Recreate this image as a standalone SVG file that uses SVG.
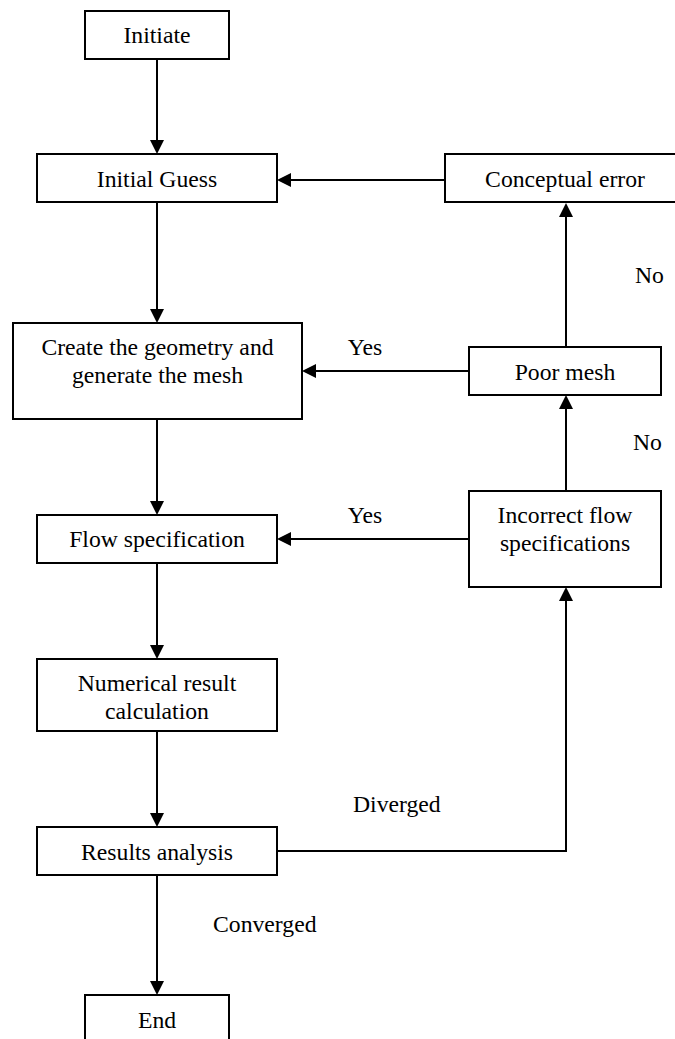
<svg xmlns="http://www.w3.org/2000/svg" width="675" height="1039" viewBox="0 0 675 1039">
<style>
.box{fill:#fff;stroke:#000;stroke-width:2}
.t{font-family:"Liberation Serif","Times New Roman",serif;font-size:23.7px;fill:#000}
.c{text-anchor:middle}
.ln{fill:none;stroke:#000;stroke-width:2}
</style>
<defs>
<marker id="ah" markerUnits="userSpaceOnUse" markerWidth="14" markerHeight="14" refX="11" refY="7" orient="auto">
<path d="M0,0 L14,7 L0,14 z" fill="#000"/>
</marker>
</defs>
<rect width="675" height="1039" fill="#fff"/>
<g id="connectors">
<line class="ln" x1="157" y1="59" x2="157" y2="151" marker-end="url(#ah)"/>
<line class="ln" x1="157" y1="203" x2="157" y2="320" marker-end="url(#ah)"/>
<line class="ln" x1="157" y1="419" x2="157" y2="512" marker-end="url(#ah)"/>
<line class="ln" x1="157" y1="563" x2="157" y2="656" marker-end="url(#ah)"/>
<line class="ln" x1="157" y1="731" x2="157" y2="824" marker-end="url(#ah)"/>
<line class="ln" x1="157" y1="875" x2="157" y2="992" marker-end="url(#ah)"/>
<line class="ln" x1="445" y1="180" x2="280" y2="180" marker-end="url(#ah)"/>
<line class="ln" x1="469" y1="371" x2="305" y2="371" marker-end="url(#ah)"/>
<line class="ln" x1="469" y1="539" x2="280" y2="539" marker-end="url(#ah)"/>
<line class="ln" x1="566" y1="347" x2="566" y2="206" marker-end="url(#ah)"/>
<line class="ln" x1="566" y1="491" x2="566" y2="398" marker-end="url(#ah)"/>
<polyline class="ln" points="277,851 566,851 566,590" marker-end="url(#ah)"/>
</g>
<g id="initiate"><rect class="box" x="85" y="11" width="144" height="48"/><text class="t c" x="157" y="43">Initiate</text></g>
<g id="initial-guess"><rect class="box" x="37" y="154" width="240" height="48"/><text class="t c" x="157" y="187">Initial Guess</text></g>
<g id="conceptual-error"><rect class="box" x="445" y="154" width="240" height="48"/><text class="t c" x="565" y="187">Conceptual error</text></g>
<g id="create-geometry"><rect class="box" x="13" y="323" width="289" height="96"/><text class="t c" x="157.5" y="355">Create the geometry and</text><text class="t c" x="157.5" y="383">generate the mesh</text></g>
<g id="poor-mesh"><rect class="box" x="469" y="347" width="192" height="48"/><text class="t c" x="565" y="380">Poor mesh</text></g>
<g id="flow-spec"><rect class="box" x="37" y="515" width="240" height="48"/><text class="t c" x="157" y="547">Flow specification</text></g>
<g id="incorrect-flow"><rect class="box" x="469" y="491" width="192" height="96"/><text class="t c" x="565" y="523">Incorrect flow</text><text class="t c" x="565" y="551">specifications</text></g>
<g id="numerical"><rect class="box" x="37" y="659" width="240" height="72"/><text class="t c" x="157" y="691">Numerical result</text><text class="t c" x="157" y="719">calculation</text></g>
<g id="results"><rect class="box" x="37" y="827" width="240" height="48"/><text class="t c" x="157" y="860">Results analysis</text></g>
<g id="end"><rect class="box" x="85" y="995" width="144" height="48"/><text class="t c" x="157" y="1028">End</text></g>
<g id="labels">
<text class="t c" x="365" y="355">Yes</text>
<text class="t c" x="365" y="523">Yes</text>
<text class="t" x="635" y="283">No</text>
<text class="t" x="633" y="450">No</text>
<text class="t" x="353" y="812">Diverged</text>
<text class="t" x="213" y="932">Converged</text>
</g>
</svg>
